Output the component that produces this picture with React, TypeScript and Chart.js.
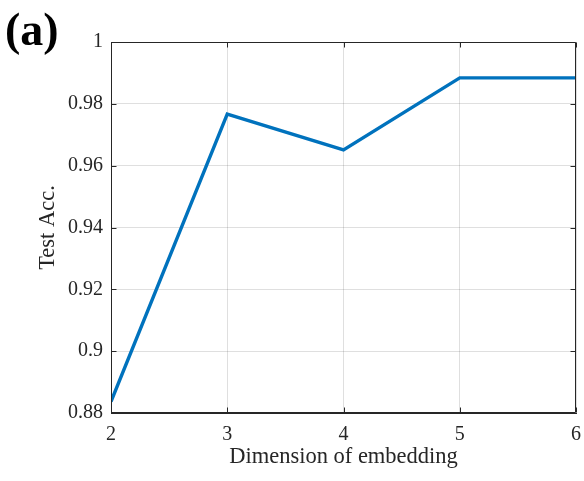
import React, { useEffect, useRef } from "react";
import { Chart, registerables } from "chart.js";

Chart.register(...registerables);

const dimensions = [2, 3, 4, 5, 6];
const testAcc = [0.8837, 0.9767, 0.9651, 0.9884, 0.9884];
const xTitle = "Dimension of embedding";
const yTitle = "Test Acc.";
const panelLabel = "(a)";

const AXIS = "#262626";
const SERIF = '"Liberation Serif", "Times New Roman", serif';

const boxPlugin = {
  id: "matlabBox",
  afterDraw(chart: any) {
    const { ctx, chartArea } = chart;
    const { left, right, top, bottom } = chartArea;
    const xs = chart.scales.x;
    const ys = chart.scales.y;
    ctx.save();
    ctx.strokeStyle = AXIS;
    ctx.lineWidth = 1;
    const L = Math.round(left) + 0.5;
    const R = Math.round(right) - 0.5;
    const T = Math.round(top) + 0.5;
    const B = Math.round(bottom) - 0.5;
    ctx.beginPath();
    ctx.moveTo(L, T);
    ctx.lineTo(R, T);
    ctx.lineTo(R, B);
    ctx.lineTo(L, B);
    ctx.closePath();
    ctx.stroke();
    const tl = 5;
    ctx.beginPath();
    xs.ticks.forEach((t: any) => {
      const px = Math.round(xs.getPixelForValue(t.value)) + 0.5;
      ctx.moveTo(px, B);
      ctx.lineTo(px, B - tl);
      ctx.moveTo(px, T);
      ctx.lineTo(px, T + tl);
    });
    ys.ticks.forEach((t: any) => {
      const py = Math.round(ys.getPixelForValue(t.value)) + 0.5;
      ctx.moveTo(L, py);
      ctx.lineTo(L + tl, py);
      ctx.moveTo(R, py);
      ctx.lineTo(R - tl, py);
    });
    ctx.stroke();
    ctx.fillStyle = "#000";
    ctx.font = `bold 46px ${SERIF}`;
    ctx.textBaseline = "alphabetic";
    ctx.textAlign = "left";
    ctx.fillText(panelLabel, 5, 45);
    ctx.restore();
  },
};

export default function App() {
  const ref = useRef<HTMLCanvasElement | null>(null);
  useEffect(() => {
    if (!ref.current) return;
    const chart = new Chart(ref.current, {
      type: "line",
      data: {
        datasets: [
          {
            data: dimensions.map((d, i) => ({ x: d, y: testAcc[i] })),
            borderColor: "#0072BD",
            borderWidth: 3.4,
            pointRadius: 0,
            tension: 0,
            fill: false,
          },
        ],
      },
      options: {
        animation: false,
        responsive: false,
        devicePixelRatio: 1,
        layout: { padding: { left: 0, top: 42, right: 8, bottom: 0 } },
        plugins: { legend: { display: false }, tooltip: { enabled: false } },
        scales: {
          x: {
            type: "linear",
            min: 2,
            max: 6,
            ticks: {
              stepSize: 1,
              padding: 10,
              color: AXIS,
              font: { family: SERIF, size: 20 },
              callback: (v: any) => String(v),
            },
            grid: { color: "rgba(38,38,38,0.15)", drawTicks: false },
            border: { color: AXIS, width: 1 },
            title: {
              display: true,
              text: xTitle,
              color: AXIS,
              font: { family: SERIF, size: 22.5 },
              padding: { top: 10, bottom: 10 },
            },
            afterFit: (s: any) => {
              s.height = 68;
              s.paddingLeft = 0;
              s.paddingRight = 0;
            },
          },
          y: {
            type: "linear",
            min: 0.88,
            max: 1,
            ticks: {
              stepSize: 0.02,
              padding: 8,
              color: AXIS,
              font: { family: SERIF, size: 20 },
              callback: (v: any) => String(Number(Number(v).toFixed(2))),
            },
            grid: { color: "rgba(38,38,38,0.15)", drawTicks: false },
            border: { color: AXIS, width: 1 },
            title: {
              display: true,
              text: yTitle,
              color: AXIS,
              font: { family: SERIF, size: 22.5 },
              padding: { top: 35, bottom: 35 },
            },
            afterFit: (s: any) => {
              s.width = 111;
              s.paddingTop = 0;
              s.paddingBottom = 0;
            },
          },
        },
      },
      plugins: [boxPlugin],
    });
    return () => chart.destroy();
  }, []);
  return (
    <div style={{ position: "absolute", left: 0, top: 0, width: 584, height: 481, background: "#fff" }}>
      <canvas ref={ref} width={584} height={481} />
    </div>
  );
}
